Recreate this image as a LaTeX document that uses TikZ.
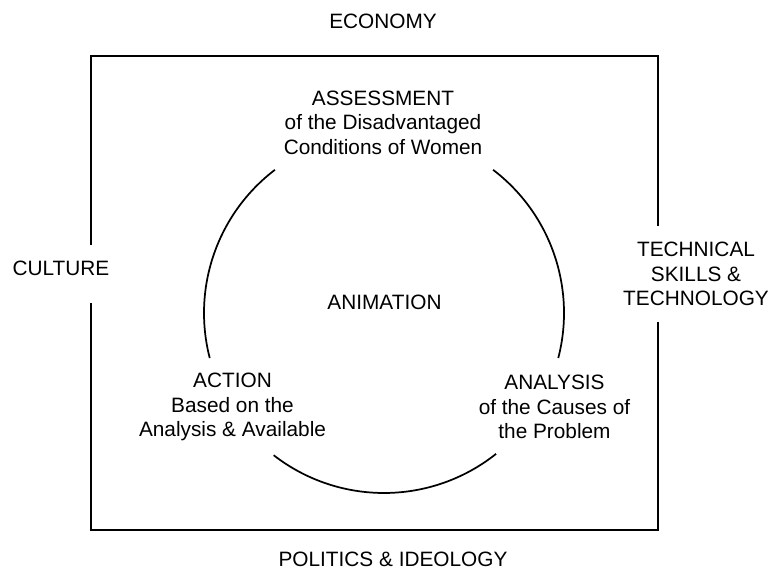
\documentclass[tikz,border=0pt]{standalone}
\usepackage{fontspec}
\setmainfont{Liberation Sans}
\begin{document}
\begin{tikzpicture}[x=0.75pt,y=0.75pt,
  lbl/.style={inner sep=0pt,align=center,font=\fontsize{15.6}{18.4}\selectfont},
  frame/.style={line width=1.5pt},
  ring/.style={line width=1.3pt}]
\useasboundingbox (0,0) rectangle (773,581);
% frame with gaps at left and right
\draw[frame] (91,336) -- (91,525) -- (658,525) -- (658,355);
\draw[frame] (658,259) -- (658,51) -- (91,51) -- (91,278);
% circle arcs
\coordinate (c) at (384,268);
\draw[ring] ([shift={(-14.5:180)}]c) arc[start angle=-14.5,end angle=52.7,radius=180];
\draw[ring] ([shift={(127.3:180)}]c) arc[start angle=127.3,end angle=194.5,radius=180];
\draw[ring] ([shift={(232.2:180)}]c) arc[start angle=232.2,end angle=308.5,radius=180];
% labels
\node[lbl] (econ) at (383,559.5) {ECONOMY};
\node[lbl] (cult) at (61,313) {CULTURE};
\node[lbl] (tech) at (696,307) {TECHNICAL\\SKILLS \&\\TECHNOLOGY};
\node[lbl] (pol) at (393,22) {POLITICS \& IDEOLOGY};
\node[lbl] (assess) at (383,458.5) {ASSESSMENT\\of the Disadvantaged\\Conditions of Women};
\node[lbl] (anim) at (384.5,278.5) {ANIMATION};
\node[lbl] (action) at (232.5,174) {ACTION\\Based on the\\Analysis \& Available};
\node[lbl] (analysis) at (554.5,174) {ANALYSIS\\of the Causes of\\the Problem};
\end{tikzpicture}
\end{document}
